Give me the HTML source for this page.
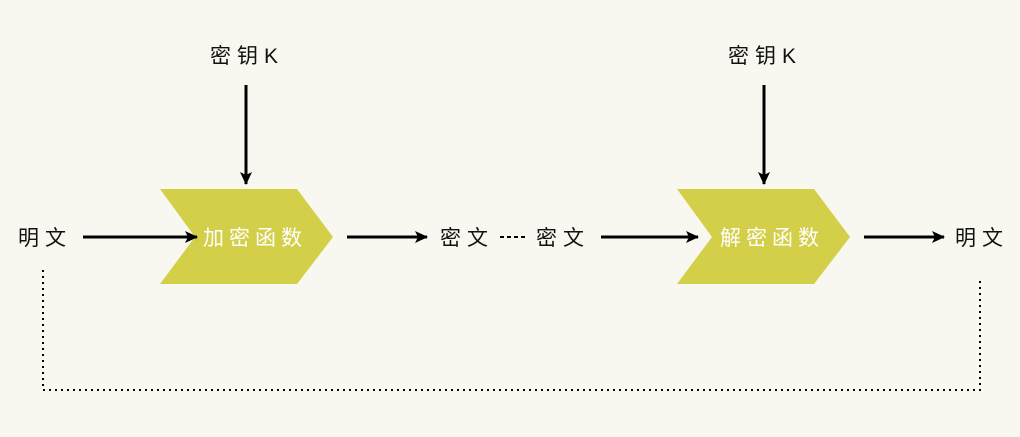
<!DOCTYPE html>
<html><head><meta charset="utf-8"><style>
html,body{margin:0;padding:0;background:#f8f7f0;}
</style></head><body>
<svg width="1020" height="437" viewBox="0 0 1020 437" xmlns="http://www.w3.org/2000/svg" style="display:block">
<defs><marker id="a" markerWidth="10" markerHeight="10" refX="9" refY="5" orient="auto" markerUnits="userSpaceOnUse"><path d="M0,0 L10,5 L0,10 L2,5 Z" fill="#000"/></marker>
<marker id="b" markerWidth="14" markerHeight="14" refX="12" refY="7" orient="auto" markerUnits="userSpaceOnUse"><path d="M0,1 L13,7 L0,13 L3,7 Z" fill="#000"/></marker></defs>
<g font-family="Liberation Sans, Noto Sans CJK SC, sans-serif" font-size="21" fill="#111" letter-spacing="6">
<text x="18" y="245">明文</text>
<text x="440" y="245">密文</text>
<text x="536" y="245">密文</text>
<text x="955" y="245">明文</text>
<text x="210" y="63">密钥K</text>
<text x="728" y="63">密钥K</text>
</g>
<polygon points="160,189 297,189 333,237 297,284 160,284 195,237" fill="#d4cf48"/>
<polygon points="677,189 814,189 850,237 814,284 677,284 712,237" fill="#d4cf48"/>
<g font-family="Liberation Sans, Noto Sans CJK SC, sans-serif" font-size="21" fill="#fff" letter-spacing="5">
<text x="203" y="245">加密函数</text>
<text x="720" y="245">解密函数</text>
</g>
<g stroke="#000" stroke-width="3">
<line x1="83" y1="237" x2="197" y2="237" marker-end="url(#b)"/>
<line x1="347" y1="237" x2="427" y2="237" marker-end="url(#b)"/>
<line x1="601" y1="237" x2="698" y2="237" marker-end="url(#b)"/>
<line x1="864" y1="237" x2="944" y2="237" marker-end="url(#b)"/>
<line x1="246" y1="85" x2="246" y2="184" marker-end="url(#b)"/>
<line x1="764" y1="85" x2="764" y2="184" marker-end="url(#b)"/>
</g>
<line x1="500" y1="237" x2="527" y2="237" stroke="#000" stroke-width="2" stroke-dasharray="4,3"/>
<path d="M43,270 V390 H980 V280" fill="none" stroke="#000" stroke-width="2" stroke-dasharray="2,4"/>
</svg>
</body></html>
